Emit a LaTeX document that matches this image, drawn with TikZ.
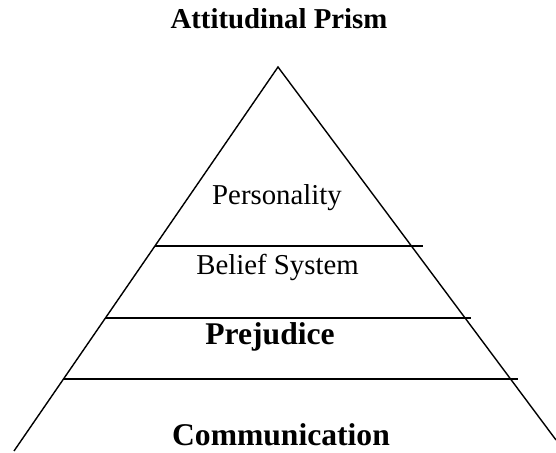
\documentclass[tikz,border=0pt]{standalone}
\usepackage{fontspec}
\setmainfont{Liberation Serif}

\begin{document}
\begin{tikzpicture}[x=0.5pt,y=-0.5pt,line width=0.7pt]
  \useasboundingbox (0,0) rectangle (556,453);
  \tikzset{layer/.style={anchor=base,font=\fontsize{14.4}{17}\selectfont},
           layerbf/.style={anchor=base,font=\fontsize{15.8}{19}\selectfont\bfseries},
           divider/.style={line width=0.85pt}}
  % the prism
  \coordinate (top) at (278,67);
  \coordinate (L) at (14,451);
  \coordinate (R) at (556,440);
  \draw (L) -- (top) -- (R);
  % layer boundaries
  \coordinate (A1) at (155,246);
  \coordinate (A2) at (423,246);
  \coordinate (B1) at (106,318);
  \coordinate (B2) at (471,318);
  \coordinate (C1) at (63,379);
  \coordinate (C2) at (518,379);
  \draw[divider] (A1) -- (A2);
  \draw[divider] (B1) -- (B2);
  \draw[divider] (C1) -- (C2);
  % labels
  \node[anchor=base,font=\fontsize{14.4}{17}\selectfont\bfseries] (title) at (279,29) {Attitudinal Prism};
  \node[layer] (pers) at (277,205) {Personality};
  \node[layer] (belief) at (277.5,275) {Belief System};
  \node[layerbf] (prej) at (270,345) {Prejudice};
  \node[layerbf] (comm) at (281,445) {Communication};
\end{tikzpicture}
\end{document}
